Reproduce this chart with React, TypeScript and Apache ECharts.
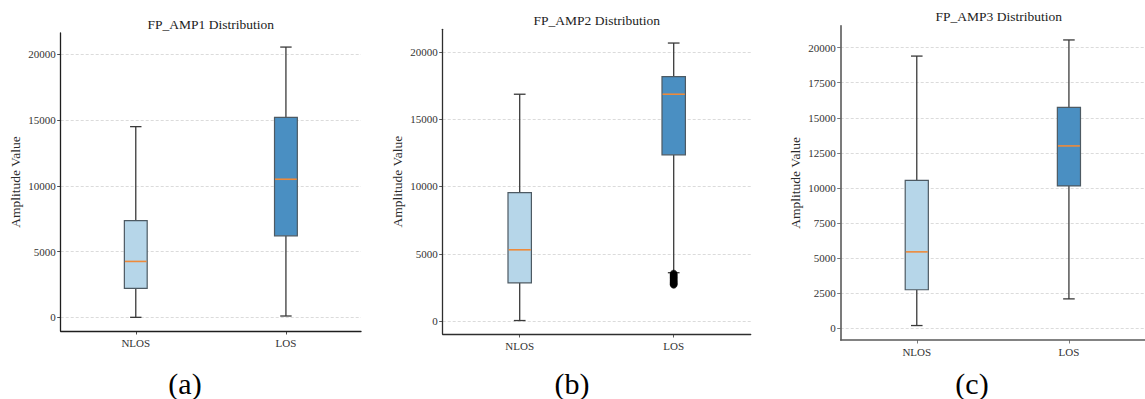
import React, { useEffect, useRef } from "react";
import * as echarts from "echarts";

const categories = ["NLOS", "LOS"];
const panelTitles = ["FP_AMP1 Distribution", "FP_AMP2 Distribution", "FP_AMP3 Distribution"];
const panelLabels = ["(a)", "(b)", "(c)"];
const yAxisName = "Amplitude Value";

// [lower whisker, Q1, median, Q3, upper whisker]
const amp1NLOS = [0, 2200, 4250, 7350, 14500];
const amp1LOS = [100, 6200, 10500, 15200, 20550];
const amp2NLOS = [50, 2850, 5300, 9550, 16850];
const amp2LOS = [3600, 12350, 16850, 18150, 20650];
const amp3NLOS = [200, 2750, 5450, 10550, 19400];
const amp3LOS = [2100, 10150, 13000, 15750, 20550];
const amp2LOSOutliers = [3540, 3470, 3410, 3330, 3260, 3200, 3130, 3050, 2990, 2920, 2860, 2800, 2740, 2700];

const yTicks12 = [0, 5000, 10000, 15000, 20000];
const yTicks3 = [0, 2500, 5000, 7500, 10000, 12500, 15000, 17500, 20000];

const FONT = '"Liberation Serif", "Times New Roman", serif';
const NLOS_FILL = "#b6d6e9";
const LOS_FILL = "#4a8fc2";
const EDGE = "#4d5a63";
const WHISKER = "#3a3a3a";
const MEDIAN = "#ee8a3a";

const renderBox = (params: any, api: any) => {
  const idx = api.value(0);
  const v = [1, 2, 3, 4, 5].map((i) => api.value(i));
  const band = api.size([1, 0])[0];
  const half = band * 0.076;
  const capHalf = half / 2;
  const pMin = api.coord([idx, v[0]]);
  const cx = pMin[0];
  const yMin = pMin[1];
  const yQ1 = api.coord([idx, v[1]])[1];
  const yMed = api.coord([idx, v[2]])[1];
  const yQ3 = api.coord([idx, v[3]])[1];
  const yMax = api.coord([idx, v[4]])[1];
  const fill = idx === 0 ? NLOS_FILL : LOS_FILL;
  const ws = { stroke: WHISKER, lineWidth: 1.3 };
  return {
    type: "group",
    children: [
      { type: "line", shape: { x1: cx, y1: yMin, x2: cx, y2: yQ1 }, style: ws },
      { type: "line", shape: { x1: cx, y1: yQ3, x2: cx, y2: yMax }, style: ws },
      { type: "line", shape: { x1: cx - capHalf, y1: yMin, x2: cx + capHalf, y2: yMin }, style: ws },
      { type: "line", shape: { x1: cx - capHalf, y1: yMax, x2: cx + capHalf, y2: yMax }, style: ws },
      {
        type: "rect",
        shape: { x: cx - half, y: yQ3, width: 2 * half, height: yQ1 - yQ3 },
        style: { fill, stroke: EDGE, lineWidth: 1.2 },
      },
      {
        type: "line",
        shape: { x1: cx - half + 0.6, y1: yMed, x2: cx + half - 0.6, y2: yMed },
        style: { stroke: MEDIAN, lineWidth: 1.6 },
      },
    ],
  };
};

const grids = [
  { left: 60.7, top: 33, width: 300.3, height: 298 },
  { left: 442.7, top: 29.3, width: 308, height: 304.7 },
  { left: 840.7, top: 25.7, width: 316, height: 314.3 },
];
const yRanges = [
  [-1040, 21620],
  [-950, 21670],
  [-830, 21565],
];
const axisColors = ["#1e1e1e", "#2e2e2e", "#5a5a5a"];
const titlePos = [
  [210.8, 24.3],
  [596.7, 20],
  [998.7, 16],
];
const labelPos = [
  [185, 383],
  [572, 383],
  [972, 383],
];

export default function App() {
  const ref = useRef<HTMLDivElement>(null);
  useEffect(() => {
    document.body.style.margin = "0";
    if (!ref.current) return;
    const chart = echarts.init(ref.current, undefined, { renderer: "svg" });
    const boxData = [
      [amp1NLOS, amp1LOS],
      [amp2NLOS, amp2LOS],
      [amp3NLOS, amp3LOS],
    ];
    const tickSets = [yTicks12, yTicks12, yTicks3];

    const xAxis = grids.map((_, i) => ({
      type: "category",
      gridIndex: i,
      data: categories,
      boundaryGap: true,
      axisLine: { show: true, onZero: false, lineStyle: { color: axisColors[i], width: i === 2 ? 1.6 : 1.3 } },
      axisTick: { show: true, alignWithLabel: true, length: 3.5, lineStyle: { color: axisColors[i], width: 0.8 } },
      axisLabel: { color: "#333", fontFamily: FONT, fontSize: 11, margin: 6 },
      splitLine: { show: false },
    }));
    const yAxis = grids.map((_, i) => ({
      type: "value",
      gridIndex: i,
      min: yRanges[i][0],
      max: yRanges[i][1],
      name: yAxisName,
      nameLocation: "middle",
      nameGap: 38,
      nameTextStyle: { color: "#2a2a2a", fontFamily: FONT, fontSize: 13.5 },
      axisLine: { show: true, onZero: false, lineStyle: { color: axisColors[i], width: i === 2 ? 1.6 : 1.3 } },
      axisTick: { show: true, length: 3.5, customValues: tickSets[i], lineStyle: { color: axisColors[i], width: 0.8 } },
      axisLabel: {
        color: "#333",
        fontFamily: FONT,
        fontSize: 11,
        margin: 5,
        customValues: tickSets[i],
        formatter: (v: number) => String(Math.round(v)),
      },
      splitLine: { show: true, lineStyle: { color: "#d2d2d2", type: [3, 2], width: 0.8 } },
    }));

    const series: any[] = boxData.map((pair, i) => ({
      type: "custom",
      xAxisIndex: i,
      yAxisIndex: i,
      renderItem: renderBox,
      encode: { x: 0, y: [1, 2, 3, 4, 5] },
      data: pair.map((vals, c) => [c, ...vals]),
      z: 3,
    }));
    series.push({
      type: "scatter",
      xAxisIndex: 1,
      yAxisIndex: 1,
      symbol: "circle",
      symbolSize: 7,
      itemStyle: { color: "#000", borderColor: "#000", borderWidth: 0.5 },
      data: amp2LOSOutliers.map((v) => [1, v]),
      z: 4,
    });

    const graphic: any[] = [];
    panelTitles.forEach((t, i) => {
      graphic.push({
        type: "text",
        x: titlePos[i][0],
        y: titlePos[i][1],
        style: {
          text: t,
          font: `13.5px ${FONT}`,
          fill: "#222",
          textAlign: "center",
          textVerticalAlign: "middle",
        },
      });
    });
    panelLabels.forEach((t, i) => {
      graphic.push({
        type: "text",
        x: labelPos[i][0],
        y: labelPos[i][1],
        style: {
          text: t,
          font: `30px ${FONT}`,
          fill: "#000",
          textAlign: "center",
          textVerticalAlign: "middle",
        },
      });
    });

    chart.setOption({
      animation: false,
      backgroundColor: "#ffffff",
      grid: grids.map((g) => ({ ...g, containLabel: false })),
      xAxis,
      yAxis,
      series,
      graphic,
    });
    return () => chart.dispose();
  }, []);
  return <div ref={ref} style={{ width: 1145, height: 399 }} />;
}
